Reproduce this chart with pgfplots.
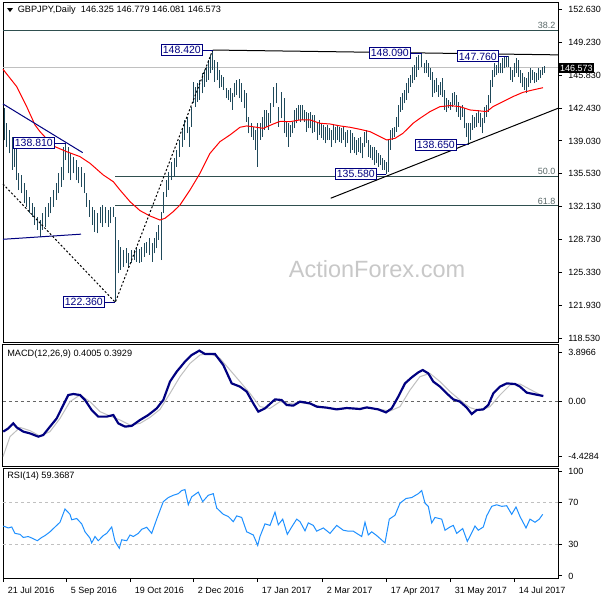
\documentclass[border=0pt]{standalone}
\usepackage{pgfplots}
\pgfplotsset{compat=1.18}
\usepackage{pgfplotstable}
\usepackage{fontspec}
\setmainfont{Liberation Sans}

\definecolor{barcol}{RGB}{31,73,90}
\definecolor{navyc}{RGB}{0,0,128}
\definecolor{fibc}{RGB}{47,79,79}
\definecolor{fibtxt}{RGB}{90,105,105}
\definecolor{rsic}{RGB}{30,144,255}
\definecolor{wm}{RGB}{200,200,200}
\definecolor{curc}{RGB}{192,192,192}

% daily bars: x position, low, high
\pgfplotstableread{
x lo hi
4 139.1 142.4
6.7 138.44 140.85
9.3 137.75 140.16
12 136.03 139.47
14.7 136.37 139.13
16.5 134.99 138.44
18.7 133.96 135.69
21.3 133.62 135.51
24 132.59 134.65
26.7 132.24 133.96
29.3 131.55 133.28
32 131.21 132.59
34.7 130.35 132.24
37.3 129.83 131.21
40 129.14 130.86
42.7 129.83 131.55
45.3 130.18 132.24
48 131.21 132.59
50.7 131.55 133.28
53.3 132.24 133.96
56 132.93 134.65
58.7 133.62 135.69
61.3 134.31 136.37
63.3 134.99 138.44
65.5 137.06 138.81
68 135.69 138.44
70.7 134.99 137.75
73.3 135.69 137.41
76 134.99 137.06
78.7 134.65 136.37
81.3 134.31 136.37
84 133.62 135.69
86.7 132.24 133.62
89.3 131.21 132.93
92 130.35 132.24
94.7 129.66 131.90
97.3 129.49 131.55
100 130.52 132.24
102.7 130.18 132.41
105.3 130.52 132.24
108 130.18 131.90
110.7 130.52 132.24
113.3 131.21 132.24
115.3 122.36 131.21
118 125.36 128.80
120.7 125.70 128.11
123.3 126.04 127.77
126 126.39 127.94
128.7 126.04 127.42
131.3 126.39 127.77
134 126.73 127.77
136.7 126.56 128.11
139.2 126.40 127.90
141.7 126.56 128.11
144 127.08 128.46
146.7 127.42 128.63
149.3 127.25 128.97
152 126.56 128.46
154.7 127.42 128.97
156.7 127.94 129.66
158.7 128.80 130.35
161.3 126.73 131.72
163.3 131.55 133.79
166 133.28 135.0
168.7 133.96 135.86
171.3 134.99 136.89
174 135.34 137.24
176.7 136.37 138.1
179.3 137.41 139.13
182 138.44 140.33
184.7 139.13 141.2
187.3 139.82 141.54
189.3 138.44 140.51
191.3 140.51 142.57
193.3 142.92 145.16
195.3 142.57 144.64
197.3 143.09 144.98
199.3 143.26 145.33
202 143.95 146.02
204 144.64 146.36
206.7 145.16 146.71
208.7 145.33 147.39
210.7 146.02 147.91
212.7 146.36 148.42
214.7 145.16 147.39
217.3 145.33 147.22
219.3 144.47 146.36
221.3 144.64 145.84
223.3 144.30 145.67
226 143.43 144.47
228 143.26 144.30
230 143.09 144.47
232 142.23 143.95
234.7 143.61 144.98
236.7 143.78 145.33
239.3 143.43 145.40
241.3 143.09 144.98
244 142.40 144.30
246.7 141.02 143.95
248.7 139.82 141.54
251.3 139.47 140.85
253.3 139.13 140.51
255.3 138.10 140.16
257.7 136.37 140.85
260 139.13 140.85
262 139.47 141.54
264 140.16 142.23
266 140.51 142.23
268 140.16 141.88
270.7 140.85 142.92
273.3 142.57 144.64
276 142.92 144.98
278 140.51 142.57
281.7 141.37 144.12
284 139.82 143.43
286 139.47 141.02
288 138.44 140.85
290 139.47 140.68
292 139.82 141.02
294 140.33 142.23
296 140.85 142.40
298 141.2 142.75
300 141.02 142.75
302 141.2 142.75
304 141.02 142.23
306.7 139.99 142.06
308.7 140.33 141.88
310.7 140.33 142.06
312.7 139.82 141.71
314.7 139.99 141.71
317.3 139.13 141.02
319.3 139.65 141.2
321.3 139.30 140.85
323.3 139.13 140.68
325.3 138.78 140.51
327.3 139.13 140.68
329.3 139.13 140.33
331.3 138.44 140.16
333.3 139.13 140.68
335.3 138.78 140.51
337.3 139.13 140.68
339.3 138.96 140.51
341.3 138.78 140.33
343.3 139.13 140.51
345.3 138.44 139.99
347.3 138.78 140.16
350 137.75 140.16
352 138.10 139.82
354 137.75 139.47
356 137.58 139.13
358 137.92 139.30
360 137.75 139.47
362 137.24 138.78
364 138.44 139.99
366 138.78 140.16
368 137.41 139.13
370 137.24 138.61
372 137.06 138.44
374 136.55 138.44
376 136.72 138.10
378 136.37 137.75
380 136.55 137.58
382 136.03 137.24
384 136.03 137.06
386 135.58 136.89
388 135.86 139.13
390 138.10 140.16
392 139.13 140.33
394 139.47 140.51
396 139.99 141.54
398 140.51 142.75
400 142.06 143.61
402 142.23 143.95
404 142.92 144.30
406 143.26 144.98
408 143.95 145.50
410 144.64 145.84
412 144.98 146.71
414.7 145.33 146.88
416.7 145.67 147.74
418.7 146.36 147.90
421.7 146.70 148.09
424 146.02 147.05
426 146.02 147.39
428 145.67 147.05
430 145.33 146.53
432 143.61 146.19
434 143.95 145.33
436 144.12 145.50
438 143.61 144.81
440 143.78 145.16
442 143.61 145.50
444 142.23 144.30
446 142.06 143.43
448 142.40 143.26
450 142.23 143.09
452 142.57 143.95
454 142.75 144.12
456 142.06 143.78
458 141.54 143.09
460 141.20 142.57
462 141.54 142.75
464 140.33 142.40
466 139.47 140.85
468 138.65 140.85
470 139.13 140.85
472 140.16 141.71
474 140.33 141.54
476 140.51 141.88
478 140.85 142.23
480 140.51 141.88
482 139.82 141.37
484 140.85 142.57
486 141.54 142.75
488 142.06 143.78
490 142.92 145.33
492 144.64 146.36
494 145.67 147.05
496 145.84 146.88
498 146.02 147.39
500 146.02 147.05
502 146.02 147.57
504 146.53 147.74
506 146.71 147.76
508 146.71 147.76
510 145.33 146.71
512 145.16 146.36
514 145.67 147.05
516 146.02 147.57
518 145.67 147.39
520 144.98 146.36
522 144.64 146.02
524 144.30 145.67
526 143.95 145.50
528 144.64 146.19
530 144.98 146.53
532 145.33 146.36
534 144.98 146.19
536 145.16 146.02
538 145.33 146.53
540 145.50 146.36
542 145.84 146.71
544 146.08 146.78
}\bars

% moving average (red)
\pgfplotstableread{
x v
3 146.43
16.7 144.64
26.7 142.57
35 140.68
40 139.99
53.3 138.51
66.7 137.92
80 137.41
90 136.72
103.3 135.51
113.3 134.82
120 133.96
130 132.76
140 131.83
150 131.28
160 130.86
165 131.04
173.3 131.73
180 132.41
190 133.96
200 135.69
210 137.75
220 138.96
230 139.65
240 140.44
246.7 140.58
256.7 140.44
263.3 140.33
273.3 140.78
280 141.05
290 141.02
300 141.2
310 141.2
320 140.85
330 140.78
340 140.58
350 140.44
360 140.23
370 139.99
380 139.47
386.7 139.13
395 139.30
403 139.82
413 140.85
420 141.37
430 142.06
440 142.57
450 142.68
460 142.57
470 142.23
480 142.13
486.7 142.06
493 142.57
503 143.09
513 143.61
523 144.05
533 144.30
543 144.53
}\ma

\pgfplotstableread{
x v
3.3 -2.45
8.3 -2.19
13.3 -1.79
16.7 -2.11
23.3 -2.45
30 -2.59
38.3 -2.85
43.3 -2.72
50 -2.05
56.7 -1.39
63.3 -0.32
68.3 0.48
73.3 0.56
80 0.48
85 0.08
91.7 -0.72
98.3 -1.25
106.7 -1.25
113.3 -1.12
118.3 -1.79
125 -2.05
131.7 -1.99
140 -1.52
148.3 -1.12
156.7 -0.59
163.3 0.08
170 1.55
176.7 2.35
185 3.15
191.7 3.68
199.3 4.03
205 3.76
215 3.76
223.3 2.88
231.7 1.41
240 1.15
246.7 0.75
253.3 -0.19
258.3 -0.85
265 -0.59
275 0.13
281.7 0.08
286.7 -0.32
293.3 -0.37
298.3 -0.13
300 -0.05
310 -0.19
316.7 -0.45
326.7 -0.53
336.7 -0.67
346.7 -0.56
360 -0.64
366.7 -0.51
378.3 -0.67
386 -0.91
391.7 -0.59
398.3 0.35
405 1.41
411.7 1.89
418.3 2.29
422.7 2.48
428.3 2.21
433.3 1.55
440 1.15
446.7 0.61
453.3 0.13
460 -0.05
466.7 -0.53
471.7 -1.04
476.7 -0.72
483.3 -0.67
488.3 -0.32
493.3 0.61
500 1.15
506.7 1.41
515 1.36
520 1.15
526.7 0.67
533.3 0.56
543.3 0.40
}\macd

\pgfplotstableread{
x v
3 -4.45
10 -2.85
20 -2.11
30 -2.37
40 -2.80
50 -2.45
60 -1.39
70 -0.05
80 0.48
90 -0.05
100 -0.85
110 -1.20
120 -1.52
130 -1.92
140 -1.79
150 -1.31
160 -0.67
170 0.61
180 1.95
190 3.01
200 3.68
210 3.81
220 3.41
230 2.48
240 1.55
250 0.61
260 -0.45
270 -0.59
280 -0.05
290 -0.19
300 -0.13
310 -0.24
320 -0.45
330 -0.59
340 -0.59
350 -0.56
360 -0.59
370 -0.56
380 -0.67
390 -0.80
400 -0.45
410 0.88
420 1.95
430 2.21
440 1.55
450 0.75
460 0.08
470 -0.53
480 -0.77
490 -0.45
500 0.48
510 1.28
520 1.36
530 0.93
543 0.39
}\signal

\pgfplotstableread{
x v
3.3 47.6
8.3 45.8
11.7 46.7
15 40.6
20 39.7
23.3 36.7
28.3 37.6
33.3 35.5
37.3 33.6
41.7 36.7
45 38.5
50 42.1
55 46.7
60 51.2
65 63.9
70 58.8
71.7 53.6
76.7 54.8
81.7 49.7
85 42.1
90 36.1
91.7 31.5
95 37.6
98.3 33.6
103.3 38.5
106.7 40.6
111.7 46.7
115 33.0
119.3 26.4
121.7 34.5
126.7 33.6
130 39.1
133.3 37.6
138.3 40.6
141.7 44.5
146.7 46.4
151.7 40.6
156.7 54.2
163.3 70.9
168.3 74.8
173.3 77.0
178.3 78.5
181.7 81.5
185 82.4
188.3 67.9
191.7 75.5
198.3 80.0
202.7 70.9
208.3 77.0
213.3 78.5
216.7 64.8
223.3 58.8
228.3 56.7
233.3 51.8
236.7 57.3
241.7 55.8
246.7 42.1
253.3 39.1
257.7 29.1
260 37.6
265 49.7
270 48.2
275 60.9
278.3 48.8
282.7 54.2
287.3 39.7
291.7 46.7
296.7 54.2
300 51.8
305 43.0
308.3 50.6
313.3 48.2
316.7 42.7
323.3 45.8
330 40.6
336.7 48.2
343.3 43.6
348.3 42.7
353.3 42.7
361.7 37.6
365 51.2
368.3 39.1
371.7 42.1
376.7 38.5
385 31.5
389.3 54.2
395 57.9
400 69.4
406 73.9
411.7 74.8
418.3 78.5
421.7 81.5
425 69.4
428.3 66.4
431.7 50.6
435 55.8
441.7 54.2
445 43.6
450 46.7
453.3 48.2
456.7 40.6
462.7 45.2
467.3 33.0
470.7 39.1
475 47.6
478.3 43.6
483.3 46.7
486.7 57.3
491.7 66.4
496.7 67.9
501.7 66.4
506.7 67.0
511.7 58.8
516 65.8
520 56.7
526 45.8
530 54.2
535 51.2
539.3 54.2
542.7 58.8
}\rsi

\pgfplotsset{
  mt/.style={
    scale only axis, width=333pt, xmin=3, xmax=558, anchor=south west,
    axis line style={black, line width=0.6pt},
    ytick pos=right, yticklabel pos=right, tick align=outside,
    major tick length=2.4pt, tick style={black, line width=0.6pt},
    yticklabel style={font=\fontsize{5.4}{6}\selectfont, anchor=west, xshift=0.3pt},
    xticklabel style={font=\fontsize{5.4}{6}\selectfont},
  },
}
\tikzset{
  lbl/.style={draw=navyc, fill=white, text=navyc, line width=0.6pt,
    font=\fontsize{6.3}{7}\selectfont, inner xsep=1pt, inner ysep=1.1pt},
  ftxt/.style={text=fibtxt, font=\fontsize{5.4}{6}\selectfont, inner sep=0.8pt},
}

\begin{document}
\begin{tikzpicture}
\path[use as bounding box, fill=white] (0pt,0pt) rectangle (360pt,-360pt);

% ---- price panel ----
\begin{axis}[mt, at={(1.8pt,-205.2pt)}, height=204pt,
  ymin=118.26, ymax=153.38, xtick=\empty,
  ytick={152.63,149.23,145.83,142.43,139.03,135.63,132.23,128.83,125.43,122.03,118.63},
  yticklabels={152.630,149.230,145.830,142.430,139.030,135.530,132.130,128.730,125.330,121.930,118.530},
  clip=false]
  \node[text=wm, font=\fontsize{14.1}{16}\selectfont] at (axis cs:377,125.8) {ActionForex.com};
  \addplot[curc, line width=0.6pt] coordinates {(3,146.573) (558,146.573)};
  \addplot[fibc, line width=0.6pt] coordinates {(3,150.46) (558,150.46)};
  \addplot[fibc, line width=0.6pt] coordinates {(115,135.39) (558,135.39)};
  \addplot[fibc, line width=0.6pt] coordinates {(115,132.31) (558,132.31)};
  \node[ftxt, anchor=south east] at (axis cs:557,150.46) {38.2};
  \node[ftxt, anchor=south east] at (axis cs:557,135.39) {50.0};
  \node[ftxt, anchor=south east] at (axis cs:557,132.31) {61.8};
  % bars
  \addplot[draw=none, mark=none, error bars/.cd, y dir=plus, y explicit, error mark=none,
    error bar style={draw=barcol, line width=0.6pt}]
    table[x=x, y=lo, y error plus expr=\thisrow{hi}-\thisrow{lo}] {\bars};
  \addplot[red, line width=0.6pt] table[x=x, y=v] {\ma};
  % trend lines
  \addplot[black, line width=0.6pt] coordinates {(213,148.42) (558,147.92)};
  \addplot[black, line width=0.6pt] coordinates {(330.7,133.11) (558,142.40)};
  \addplot[navyc, line width=0.6pt] coordinates {(3,142.85) (82.7,137.82)};
  \addplot[navyc, line width=0.6pt] coordinates {(3,128.87) (81,129.40)};
  \addplot[black, line width=0.6pt, dash pattern=on 1.2pt off 1.2pt] coordinates {(3,134.58) (115.3,122.36) (212.7,148.42)};
  % swing labels
  \addplot[navyc, line width=0.6pt] coordinates {(203,148.42) (213,148.42)};
  \addplot[navyc, line width=0.6pt] coordinates {(55,138.81) (65.5,138.81)};
  \addplot[navyc, line width=0.6pt] coordinates {(105,122.36) (115.3,122.36)};
  \addplot[navyc, line width=0.6pt] coordinates {(411,148.09) (421.7,148.09)};
  \addplot[navyc, line width=0.6pt] coordinates {(499,147.76) (508,147.76)};
  \addplot[navyc, line width=0.6pt] coordinates {(457,138.65) (468,138.65)};
  \addplot[navyc, line width=0.6pt] coordinates {(377,135.58) (386,135.58)};
  \node[lbl, anchor=east] at (axis cs:203,148.42) {148.420};
  \node[lbl, anchor=east] at (axis cs:55,138.81) {138.810};
  \node[lbl, anchor=east] at (axis cs:105,122.36) {122.360};
  \node[lbl, anchor=east] at (axis cs:411,148.09) {148.090};
  \node[lbl, anchor=east] at (axis cs:499,147.76) {147.760};
  \node[lbl, anchor=east] at (axis cs:457,138.65) {138.650};
  \node[lbl, anchor=east] at (axis cs:377,135.58) {135.580};
  \node[fill=black, text=white, anchor=west, inner xsep=1pt, inner ysep=1pt,
    font=\fontsize{5.4}{6}\selectfont] at (axis cs:558,146.573) {146.573};
\end{axis}

% ---- MACD panel ----
\begin{axis}[mt, at={(1.8pt,-279.6pt)}, height=73.2pt,
  ymin=-5.2, ymax=4.56, xtick=\empty,
  ytick={3.8966,0,-4.4284}, yticklabels={3.8966,0.00,-4.4284}]
  \addplot[gray!80!black, line width=0.6pt, dash pattern=on 1.8pt off 1.8pt] coordinates {(3,0) (558,0)};
  \addplot[curc, line width=0.6pt] table[x=x, y=v] {\signal};
  \addplot[navyc, line width=1.3pt] table[x=x, y=v] {\macd};
\end{axis}

% ---- RSI panel ----
\begin{axis}[mt, at={(1.8pt,-346.8pt)}, height=66pt,
  ymin=-2, ymax=103,
  ytick={100,70,30,0}, yticklabels={100,70,30,0},
  xtick pos=bottom,
  xtick={3,66,130,193,257,322,386,450,514},
  xticklabels={21 Jul 2016,5 Sep 2016,19 Oct 2016,2 Dec 2016,17 Jan 2017,2 Mar 2017,17 Apr 2017,31 May 2017,14 Jul 2017},
  xticklabel style={anchor=north west, xshift=-0.6pt, yshift=0.6pt}]
  \addplot[curc, line width=0.6pt, dash pattern=on 1.8pt off 1.8pt] coordinates {(3,70) (558,70)};
  \addplot[curc, line width=0.6pt, dash pattern=on 1.8pt off 1.8pt] coordinates {(3,30) (558,30)};
  \addplot[rsic, line width=0.6pt] table[x=x, y=v] {\rsi};
\end{axis}

% panel captions
\fill[black] (4.2pt,-4.8pt) -- (7.8pt,-4.8pt) -- (6pt,-7.2pt) -- cycle;
\node[anchor=west, inner sep=0pt, font=\fontsize{5.5}{6}\selectfont] at (10.5pt,-6pt)
  {GBPJPY,Daily\ \ 146.325 146.779 146.081 146.573};
\node[anchor=west, inner sep=0pt, font=\fontsize{5.5}{6}\selectfont] at (4.2pt,-212.4pt)
  {MACD(12,26,9) 0.4005 0.3929};
\node[anchor=west, inner sep=0pt, font=\fontsize{5.5}{6}\selectfont] at (4.2pt,-285.6pt)
  {RSI(14) 59.3687};
\end{tikzpicture}
\end{document}
